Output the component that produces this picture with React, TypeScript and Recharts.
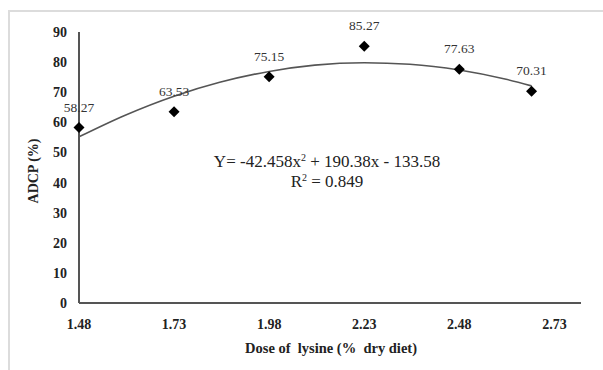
import React from 'react';
import {
  ComposedChart,
  Scatter,
  Line,
  XAxis,
  YAxis,
} from 'recharts';

// measured points (dose of lysine vs ADCP)
const doses = [1.48, 1.73, 1.98, 2.23, 2.48, 2.67];
const adcp = [58.27, 63.53, 75.15, 85.27, 77.63, 70.31];

// trendline
const trendX = [1.48, 1.6, 1.73, 1.85, 1.98, 2.1, 2.23, 2.35, 2.48, 2.6, 2.67];
const trendY = [55.2, 62.3, 68.7, 73.3, 76.9, 79.0, 79.8, 79.3, 77.4, 74.4, 72.1];

const xTicks = [1.48, 1.73, 1.98, 2.23, 2.48, 2.73];
const yTicks = [0, 10, 20, 30, 40, 50, 60, 70, 80, 90];

const points = doses.map((d, i) => ({ x: d, y: adcp[i] }));
const trend = trendX.map((d, i) => ({ x: d, trend: trendY[i] }));

const FONT = '"Liberation Serif", "Times New Roman", serif';

function Diamond(props: any) {
  const { cx, cy, payload } = props;
  const r = 5.5;
  return (
    <g>
      <polygon
        points={`${cx},${cy - r} ${cx + r},${cy} ${cx},${cy + r} ${cx - r},${cy}`}
        fill="#000"
      />
      <text
        x={cx}
        y={cy - 16}
        textAnchor="middle"
        fontFamily={FONT}
        fontSize={13.5}
        fill="#333"
      >
        {payload.y.toFixed(2)}
      </text>
    </g>
  );
}

export default function App() {
  return (
    <div style={{ position: 'fixed', left: 0, top: 0, width: 603, height: 370, background: '#fff' }}>
      <div
        style={{
          position: 'absolute',
          left: 8,
          top: 10,
          width: 595,
          height: 360,
          borderTop: '2px solid #dcdcdc',
          borderLeft: '2px solid #dcdcdc',
          boxSizing: 'border-box',
        }}
      />
      <ComposedChart
        width={603}
        height={370}
        margin={{ top: 32, right: 22, bottom: 37, left: 9 }}
        style={{ position: 'absolute', left: 0, top: 0 }}
      >
        <XAxis
          dataKey="x"
          type="number"
          domain={[1.48, 2.8]}
          ticks={xTicks}
          tickFormatter={(v: number) => v.toFixed(2)}
          tickLine={false}
          tickMargin={10}
          height={30}
          stroke="#555"
          strokeWidth={2}
          tick={{ fontFamily: FONT, fontSize: 14, fontWeight: 'bold', fill: '#222' }}
          label={{
            content: () => (
              <text
                x={331}
                y={353}
                textAnchor="middle"
                fontFamily={FONT}
                fontSize={14.5}
                fontWeight="bold"
                fill="#222"
                style={{ whiteSpace: 'pre' }}
              >
                {'Dose of  lysine (%  dry diet)'}
              </text>
            ),
          }}
        />
        <YAxis
          type="number"
          domain={[0, 90]}
          ticks={yTicks}
          width={70}
          tickLine={false}
          tickMargin={6}
          stroke="#555"
          strokeWidth={2}
          tick={{ fontFamily: FONT, fontSize: 14, fontWeight: 'bold', fill: '#222' }}
          label={{
            content: () => (
              <text
                x={38}
                y={171}
                transform="rotate(-90 38 171)"
                textAnchor="middle"
                fontFamily={FONT}
                fontSize={14}
                fontWeight="bold"
                fill="#222"
              >
                ADCP (%)
              </text>
            ),
          }}
        />
        <Line
          data={trend}
          dataKey="trend"
          type="monotone"
          stroke="#555"
          strokeWidth={1.6}
          dot={false}
          activeDot={false}
          isAnimationActive={false}
        />
        <Scatter
          data={points}
          dataKey="y"
          shape={Diamond}
          isAnimationActive={false}
        />
      </ComposedChart>
      <div
        style={{
          position: 'absolute',
          left: 177,
          top: 152,
          width: 300,
          textAlign: 'center',
          fontFamily: FONT,
          fontSize: 17,
          lineHeight: '20px',
          color: '#222',
        }}
      >
        <div>
          Y= -42.458x<sup style={{ fontSize: 10, verticalAlign: 'top', lineHeight: '12px' }}>2</sup> + 190.38x - 133.58
        </div>
        <div>
          R<sup style={{ fontSize: 10, verticalAlign: 'top', lineHeight: '12px' }}>2</sup> = 0.849
        </div>
      </div>
    </div>
  );
}
